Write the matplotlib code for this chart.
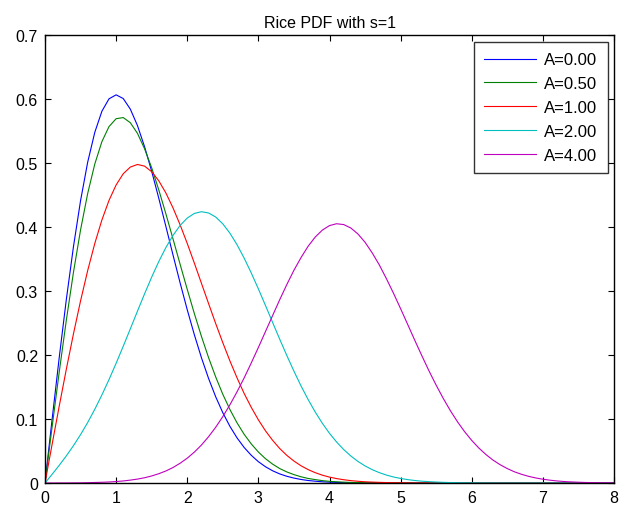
import matplotlib
matplotlib.use("Agg")
import matplotlib.pyplot as plt

plt.rcParams['font.family'] = ['Liberation Sans', 'DejaVu Sans']

x = [0.0, 0.1, 0.2, 0.3, 0.4, 0.5, 0.6, 0.7, 0.8, 0.9,
     1.0, 1.1, 1.2, 1.3, 1.4, 1.5, 1.6, 1.7, 1.8, 1.9,
     2.0, 2.1, 2.2, 2.3, 2.4, 2.5, 2.6, 2.7, 2.8, 2.9,
     3.0, 3.1, 3.2, 3.3, 3.4, 3.5, 3.6, 3.7, 3.8, 3.9,
     4.0, 4.1, 4.2, 4.3, 4.4, 4.5, 4.6, 4.7, 4.8, 4.9,
     5.0, 5.1, 5.2, 5.3, 5.4, 5.5, 5.6, 5.7, 5.8, 5.9,
     6.0, 6.1, 6.2, 6.3, 6.4, 6.5, 6.6, 6.7, 6.8, 6.9,
     7.0, 7.1, 7.2, 7.3, 7.4, 7.5, 7.6, 7.7, 7.8, 7.9, 8.0]

a0 = [0.0, 0.0995, 0.1960, 0.2868, 0.3692, 0.4412, 0.5012, 0.5479, 0.5809, 0.6003,
      0.6065, 0.6007, 0.5841, 0.5585, 0.5254, 0.4870, 0.4448, 0.4007, 0.3562, 0.3125,
      0.2707, 0.2316, 0.1956, 0.1633, 0.1347, 0.1098, 0.0885, 0.0705, 0.0555, 0.0433,
      0.0333, 0.0254, 0.0191, 0.0142, 0.0105, 0.0077, 0.0055, 0.0039, 0.0028, 0.0019,
      0.0013, 0.0009, 0.0006, 0.0004, 0.0003, 0.0002, 0.0001, 0.0001, 0.0, 0.0,
      0.0, 0.0, 0.0, 0.0, 0.0, 0.0, 0.0, 0.0, 0.0, 0.0,
      0.0, 0.0, 0.0, 0.0, 0.0, 0.0, 0.0, 0.0, 0.0, 0.0,
      0.0, 0.0, 0.0, 0.0, 0.0, 0.0, 0.0, 0.0, 0.0, 0.0, 0.0]

a05 = [0.0, 0.0879, 0.1734, 0.2545, 0.3291, 0.3955, 0.4523, 0.4984, 0.5334, 0.5569,
       0.5692, 0.5710, 0.5629, 0.5463, 0.5222, 0.4924, 0.4579, 0.4204, 0.3813, 0.3416,
       0.3025, 0.2647, 0.2289, 0.1958, 0.1657, 0.1386, 0.1148, 0.0940, 0.0761, 0.0611,
       0.0484, 0.0380, 0.0295, 0.0226, 0.0173, 0.0131, 0.0097, 0.0071, 0.0053, 0.0037,
       0.0026, 0.0019, 0.0013, 0.0009, 0.0007, 0.0005, 0.0003, 0.0002, 0.0001, 0.0001,
       0.0, 0.0, 0.0, 0.0, 0.0, 0.0, 0.0, 0.0, 0.0, 0.0,
       0.0, 0.0, 0.0, 0.0, 0.0, 0.0, 0.0, 0.0, 0.0, 0.0,
       0.0, 0.0, 0.0, 0.0, 0.0, 0.0, 0.0, 0.0, 0.0, 0.0, 0.0]

a1 = [0.0, 0.0605, 0.1201, 0.1779, 0.2330, 0.2846, 0.3319, 0.3743, 0.4110, 0.4416,
      0.4657, 0.4832, 0.4937, 0.4977, 0.4951, 0.4864, 0.4721, 0.4531, 0.4298, 0.4033,
      0.3743, 0.3435, 0.3119, 0.2803, 0.2491, 0.2192, 0.1907, 0.1643, 0.1399, 0.1182,
      0.0987, 0.0815, 0.0667, 0.0539, 0.0432, 0.0343, 0.0269, 0.0209, 0.0161, 0.0122,
      0.0092, 0.0069, 0.0051, 0.0037, 0.0027, 0.0019, 0.0014, 0.0010, 0.0007, 0.0005,
      0.0003, 0.0002, 0.0001, 0.0001, 0.0001, 0.0, 0.0, 0.0, 0.0, 0.0,
      0.0, 0.0, 0.0, 0.0, 0.0, 0.0, 0.0, 0.0, 0.0, 0.0,
      0.0, 0.0, 0.0, 0.0, 0.0, 0.0, 0.0, 0.0, 0.0, 0.0, 0.0]

a2 = [0.0, 0.0136, 0.0276, 0.0424, 0.0583, 0.0756, 0.0945, 0.1152, 0.1376, 0.1616,
      0.1871, 0.2137, 0.2410, 0.2685, 0.2956, 0.3217, 0.3461, 0.3680, 0.3869, 0.4025,
      0.4140, 0.4212, 0.4239, 0.4219, 0.4156, 0.4049, 0.3903, 0.3723, 0.3514, 0.3282,
      0.3033, 0.2773, 0.2509, 0.2247, 0.1992, 0.1747, 0.1516, 0.1303, 0.1108, 0.0932,
      0.0776, 0.0640, 0.0522, 0.0422, 0.0337, 0.0267, 0.0209, 0.0162, 0.0124, 0.0094,
      0.0071, 0.0053, 0.0039, 0.0028, 0.0021, 0.0015, 0.0010, 0.0007, 0.0005, 0.0004,
      0.0002, 0.0002, 0.0001, 0.0001, 0.0, 0.0, 0.0, 0.0, 0.0, 0.0,
      0.0, 0.0, 0.0, 0.0, 0.0, 0.0, 0.0, 0.0, 0.0, 0.0, 0.0]

a4 = [0.0, 0.0, 0.0001, 0.0001, 0.0002, 0.0003, 0.0005, 0.0008, 0.0011, 0.0016,
      0.0023, 0.0032, 0.0045, 0.0061, 0.0082, 0.0110, 0.0145, 0.0188, 0.0242, 0.0309,
      0.0388, 0.0483, 0.0594, 0.0724, 0.0871, 0.1038, 0.1222, 0.1425, 0.1642, 0.1876,
      0.2118, 0.2367, 0.2616, 0.2864, 0.3101, 0.3324, 0.3523, 0.3700, 0.3844, 0.3952,
      0.4022, 0.4051, 0.4038, 0.3984, 0.3891, 0.3761, 0.3596, 0.3408, 0.3193, 0.2964,
      0.2723, 0.2476, 0.2227, 0.1985, 0.1749, 0.1528, 0.1320, 0.1129, 0.0956, 0.0801,
      0.0665, 0.0546, 0.0444, 0.0357, 0.0285, 0.0225, 0.0175, 0.0136, 0.0104, 0.0079,
      0.0059, 0.0044, 0.0032, 0.0023, 0.0017, 0.0012, 0.0008, 0.0006, 0.0004, 0.0003,
      0.0002]

series = [a0, a05, a1, a2, a4]
labels = ['A=0.00', 'A=0.50', 'A=1.00', 'A=2.00', 'A=4.00']
colors = ['#0000ff', '#008000', '#ff0000', '#00bfbf', '#bf00bf']
xticks = [0, 1, 2, 3, 4, 5, 6, 7, 8]
yticks = [0, 0.1, 0.2, 0.3, 0.4, 0.5, 0.6, 0.7]
ytick_labels = ['0', '0.1', '0.2', '0.3', '0.4', '0.5', '0.6', '0.7']

fig = plt.figure(figsize=(6.37, 5.06), dpi=100)
ax = fig.add_axes([45/637, 1 - 484/506, (614 - 45)/637, (484 - 36)/506])

for ys, lab, c in zip(series, labels, colors):
    ax.plot(x, ys, color=c, lw=0.8, label=lab)

ax.set_xlim(0, 8)
ax.set_ylim(0, 0.7)
ax.set_xticks(xticks)
ax.set_xticklabels([str(t) for t in xticks])
ax.set_yticks(yticks)
ax.set_yticklabels(ytick_labels)
ax.tick_params(direction='in', length=4, width=0.8, top=True, right=True,
               labelsize=11.5, pad=5, colors='black')
for s in ax.spines.values():
    s.set_linewidth(1.0)
    s.set_color('black')

ax.set_title('Rice PDF with s=1', fontsize=11.5, pad=6)

leg = ax.legend(loc='upper right', bbox_to_anchor=(608/637, 1 - 43/506),
                bbox_transform=fig.transFigure, fontsize=12, frameon=True,
                fancybox=False, handlelength=3.1, labelspacing=0.53,
                borderpad=0.62, handletextpad=0.5, borderaxespad=0)
leg.get_frame().set_edgecolor('black')
leg.get_frame().set_linewidth(1.0)

fig.savefig('out.png', dpi=100)
